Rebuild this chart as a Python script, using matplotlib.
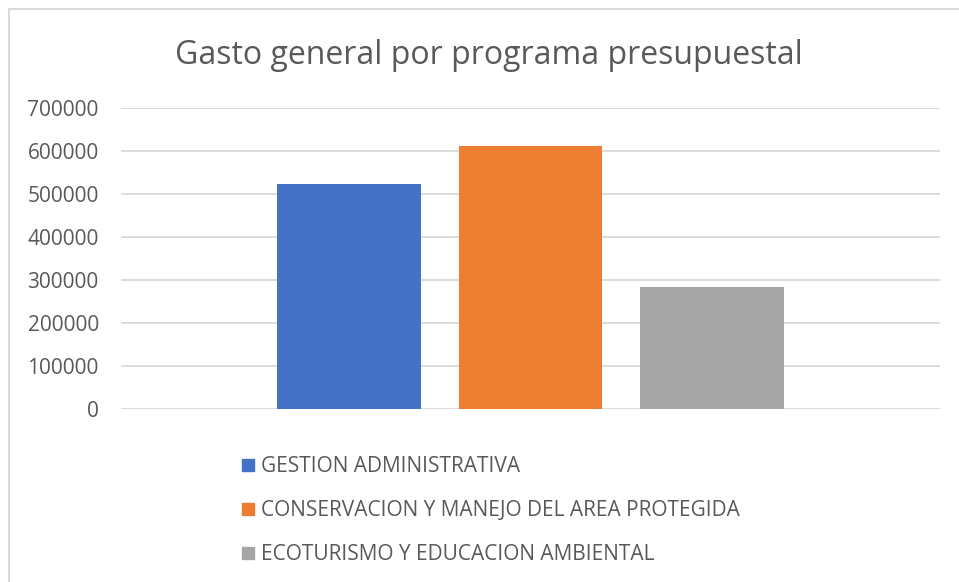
import matplotlib.pyplot as plt
from matplotlib.lines import Line2D

# datos
programas = ['GESTION ADMINISTRATIVA',
             'CONSERVACION Y MANEJO DEL AREA PROTEGIDA',
             'ECOTURISMO Y EDUCACION AMBIENTAL']
gasto = [523000, 612000, 285000]
colores = ['#4472C4', '#ED7D31', '#A5A5A5']
y_ticks = [0, 100000, 200000, 300000, 400000, 500000, 600000, 700000]

plt.rcParams['font.family'] = ['Open Sans', 'DejaVu Sans']

W, H = 959, 582
fig = plt.figure(figsize=(W / 100, H / 100), dpi=100)
ax = fig.add_axes([121 / W, (H - 409.3) / H, (940 - 121) / W, (409.3 - 107.7) / H])

# un solo grupo, barras lado a lado
ancho = 143.5 / 819
paso = 181.5 / 819
xs = [0.5 - paso, 0.5, 0.5 + paso]
for x, v, c, lab in zip(xs, gasto, colores, programas):
    ax.bar(x, v, width=ancho, color=c, label=lab, zorder=3)

ax.set_xlim(0, 1)
ax.set_ylim(0, 700000)
ax.set_yticks(y_ticks)
ax.set_yticklabels([str(t) for t in y_ticks], fontsize=15, color='#595959')
ax.set_xticks([])
ax.tick_params(axis='y', length=0, pad=16)
ax.grid(axis='y', color='#D9D9D9', linewidth=1.3, zorder=0)
for s in ax.spines.values():
    s.set_visible(False)

fig.text(489 / W, 1 - 56 / H, 'Gasto general por programa presupuestal',
         ha='center', va='center', fontsize=23, color='#595959')

# leyenda
handles = [Line2D([0], [0], marker='s', linestyle='', markersize=9,
                  markerfacecolor=c, markeredgecolor=c) for c in colores]
fig.legend(handles, programas, loc='upper left',
           bbox_to_anchor=(230 / W, 1 - 446 / H), frameon=False,
           fontsize=15, labelcolor='#595959', handlelength=0.7,
           handletextpad=0.3, labelspacing=1.1, borderpad=0)

# borde del grafico
fig.add_artist(Line2D([8.5 / W, 1], [1 - 9 / H, 1 - 9 / H], color='#D9D9D9', linewidth=1.5))
fig.add_artist(Line2D([8.5 / W, 8.5 / W], [0, 1 - 9 / H], color='#D9D9D9', linewidth=1.5))

fig.savefig('out.png', dpi=100)
